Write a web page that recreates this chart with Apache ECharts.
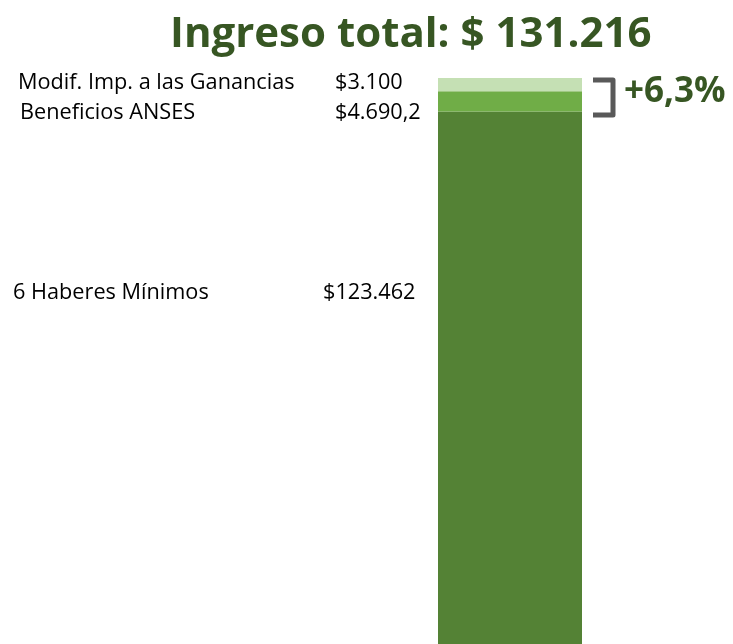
<!DOCTYPE html>
<html>
<head>
<meta charset="utf-8">
<script src="https://cdn.jsdelivr.net/npm/echarts@6/dist/echarts.min.js"></script>
<style>
html, body { margin: 0; padding: 0; background: #fff; }
#chart { width: 733px; height: 644px; }
</style>
</head>
<body>
<div id="chart"></div>
<script>
var names = ['6 Haberes Mínimos', 'Beneficios ANSES', 'Modif. Imp. a las Ganancias'];
var values = [123462, 4690.2, 3100];
var colors = ['#548235', '#70AD47', '#C5E0B4'];
var labelY = [292, 112, 82];
var titleText = 'Ingreso total: $ 131.216';

var total = values.reduce(function (a, b) { return a + b; }, 0);

var fmt = function (v) {
    var parts = v.toFixed(1).split('.');
    var ent = parts[0].replace(/\B(?=(\d{3})+(?!\d))/g, '.');
    return '$' + ent + (parts[1] !== '0' ? ',' + parts[1] : '');
};
var pct = '+' + ((values[1] + values[2]) / values[0] * 100).toFixed(1).replace('.', ',') + '%';

var chart = echarts.init(document.getElementById('chart'));

var graphics = [];
names.forEach(function (n, i) {
    graphics.push({
        type: 'text', left: i === 0 ? 13 : (i === 1 ? 20 : 18), top: labelY[i] - 10,
        style: { text: n, fill: '#000', font: '21.7px "Open Sans"' }
    });
    graphics.push({
        type: 'text', left: i === 0 ? 323 : 335, top: labelY[i] - 10,
        style: { text: fmt(values[i]), fill: '#000', font: '21.7px "Open Sans"' }
    });
});
graphics.push({
    type: 'polyline', shape: { points: [[593, 80], [613, 80], [613, 115], [593, 115]] },
    style: { stroke: '#595959', lineWidth: 5, fill: null, lineJoin: 'round' }
});
graphics.push({
    type: 'text', left: 624, top: 75,
    style: { text: pct, fill: '#375623', font: 'bold 35px "Open Sans"' }
});

chart.setOption({
    backgroundColor: '#fff',
    animation: false,
    title: {
        text: titleText, left: 165, top: 9,
        textStyle: { color: '#375623', fontSize: 42, fontWeight: 'bold', fontFamily: 'Open Sans' }
    },
    grid: { left: 438, width: 144, top: 78, bottom: 0 },
    xAxis: { type: 'category', data: [''], show: false },
    yAxis: { type: 'value', min: 0, max: total, show: false },
    series: values.map(function (v, i) {
        return {
            name: names[i], type: 'bar', stack: 'total', barWidth: '100%',
            data: [v], itemStyle: { color: colors[i] }
        };
    }),
    graphic: graphics
});
</script>
</body>
</html>
